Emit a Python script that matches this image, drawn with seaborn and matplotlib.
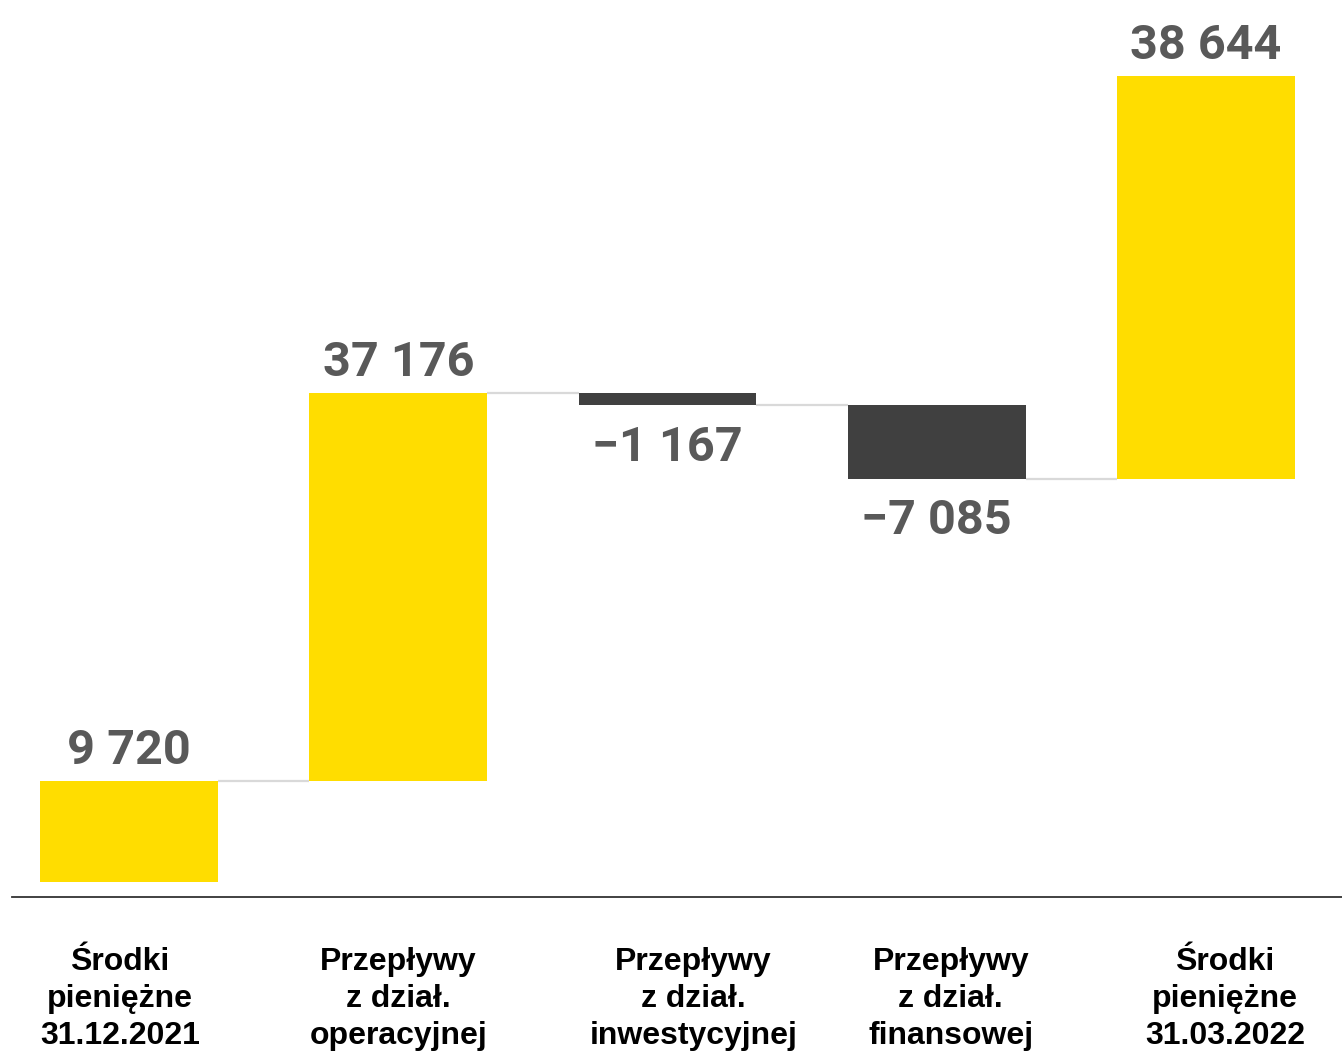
import matplotlib
matplotlib.use("Agg")
import matplotlib.pyplot as plt
import matplotlib.transforms as mtrans
import numpy as np
import seaborn as sns

# data
categories = ["Środki\npieniężne\n31.12.2021",
              "Przepływy\nz dział.\noperacyjnej",
              "Przepływy\nz dział.\ninwestycyjnej",
              "Przepływy\nz dział.\nfinansowej",
              "Środki\npieniężne\n31.03.2022"]
changes = [9720, 37176, -1167, -7085, 38644]
value_labels = ["9 720", "37 176", "\u22121 167", "\u22127 085", "38 644"]
# running totals used as bar bottoms (last bar drawn floating, as in the source)
bottoms = [0, 9720, 46896, 45729, 38644]

YELLOW = "#FFDD00"
DARK = "#404040"
bar_colors = [YELLOW if c > 0 else DARK for c in changes]

sns.set_theme(style="white")
plt.rcParams['font.family'] = ['Liberation Sans', 'DejaVu Sans']

fig = plt.figure(figsize=(13.42, 10.54), dpi=100)
ax = fig.add_axes([12 / 1342, 157 / 1054, 1330 / 1342, 897 / 1054])

w = 0.661
sns.barplot(x=categories, y=changes, hue=categories, palette=bar_colors,
            legend=False, width=w, saturation=1, ax=ax)

for patch, b in zip(ax.patches, bottoms):
    patch.set_y(b)
    patch.set_edgecolor("none")

# connector lines between bars
for i in range(len(changes) - 1):
    level = bottoms[i] + changes[i]
    ax.hlines(level, i + w / 2, i + 1 - w / 2, color="#d9d9d9", lw=1.6, zorder=0)

# value labels
val_font = dict(fontsize=35, fontweight="bold", color="#595959",
                family=["Roboto", "DejaVu Sans"])
for i, (c, b, lab) in enumerate(zip(changes, bottoms, value_labels)):
    y = b + c
    if c > 0:
        ax.annotate(lab, (i, y), xytext=(0, 12), textcoords="offset points",
                    ha="center", va="baseline", **val_font)
    else:
        ax.annotate(lab, (i, y), xytext=(0, -14), textcoords="offset points",
                    ha="center", va="top", **val_font)

ax.set_xlim(-0.4345, 4.505)
ax.set_ylim(-1438, 84580)
ax.set_yticks([])
ax.set_ylabel("")
ax.set_xlabel("")
for s in ["top", "left", "right"]:
    ax.spines[s].set_visible(False)
ax.spines["bottom"].set_color("#333333")
ax.spines["bottom"].set_linewidth(1.3)
ax.tick_params(axis="x", length=0, pad=36)

# small horizontal shifts of category labels (pixels), as in the source
label_shift = [-9, 0, 26, 14, 19]
for t, dx in zip(ax.get_xticklabels(), label_shift):
    t.set_fontsize(23)
    t.set_fontweight("bold")
    t.set_color("black")
    t.set_linespacing(1.3)
    t.set_transform(t.get_transform() + mtrans.ScaledTranslation(dx / 100, 0, fig.dpi_scale_trans))

fig.savefig("out.png", dpi=100)
